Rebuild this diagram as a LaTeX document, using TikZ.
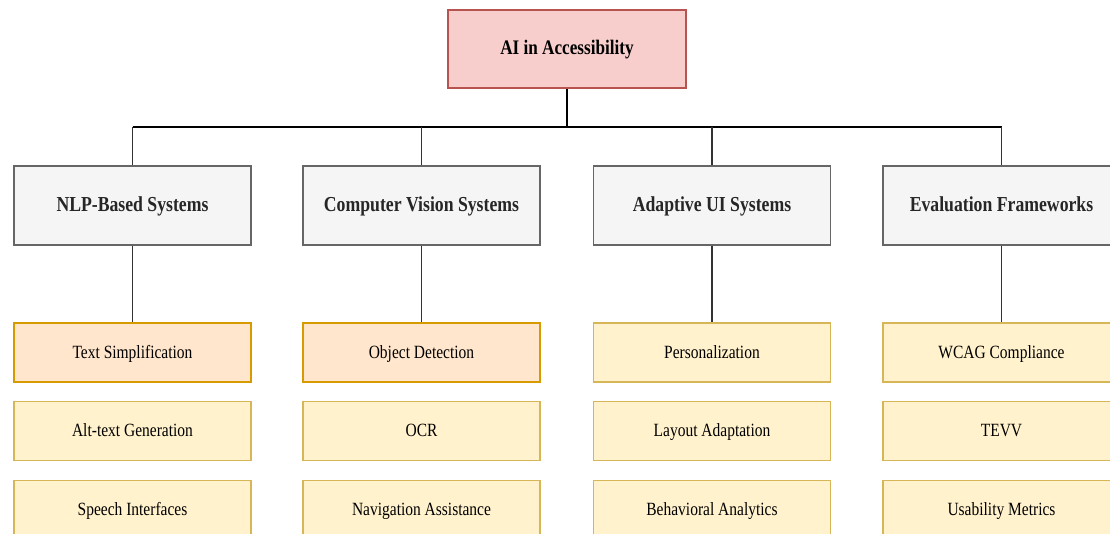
\documentclass[tikz,border=0pt]{standalone}
\usepackage{fontspec}
\setmainfont[FakeStretch=0.83]{Liberation Serif}

\definecolor{rootfill}{HTML}{F8CECC}
\definecolor{rootline}{HTML}{B85450}
\definecolor{catfill}{HTML}{F5F5F5}
\definecolor{catline}{HTML}{666666}
\definecolor{hotfill}{HTML}{FFE6CC}
\definecolor{hotline}{HTML}{D79B00}
\definecolor{leaffill}{HTML}{FFF2CC}
\definecolor{leafline}{HTML}{D6B656}

\tikzset{
    box/.style={text height=0.85em, text depth=0em},
    rootbox/.style={box, draw=rootline, fill=rootfill, line width=1.2pt, minimum width=178.5pt, minimum height=58.5pt, font=\fontsize{15.5}{18}\selectfont\bfseries},
    catbox/.style={box, draw=catline, fill=catfill, line width=1.1pt, minimum width=177.75pt, minimum height=59.25pt, font=\fontsize{16}{19}\selectfont\bfseries, text=black!85},
    hotbox/.style={box, draw=hotline, fill=hotfill, line width=1.1pt, minimum width=177.75pt, minimum height=44.25pt, font=\fontsize{14}{17}\selectfont},
    leafbox/.style={box, draw=leafline, fill=leaffill, line width=1.1pt, minimum width=177.75pt, minimum height=44.25pt, font=\fontsize{14}{17}\selectfont},
    bus/.style={draw=black, line width=1.6pt},
    link/.style={draw=black!80, line width=1pt}
}

\begin{document}
\begin{tikzpicture}[x=0.75pt, y=-0.75pt]
    \useasboundingbox (0,0) rectangle (1110,534);
    \clip (0,0) rectangle (1110,534);

    \node[rootbox] (root) at (567,49) {AI in Accessibility};

    \foreach \i/\x/\name in {1/132.5/NLP-Based Systems, 2/421.5/Computer Vision Systems, 3/712/Adaptive UI Systems, 4/1001.5/Evaluation Frameworks}
    {
        \node[catbox] (c\i) at (\x,205.5) {\name};
    }

    % leaves, first row
    \node[hotbox] (l11) at (132.5,352.5) {Text Simplification};
    \node[hotbox] (l21) at (421.5,352.5) {Object Detection};
    \node[leafbox] (l31) at (712,352.5) {Personalization};
    \node[leafbox] (l41) at (1001.5,352.5) {WCAG Compliance};

    \foreach \i/\x/\first/\second in {1/132.5/Alt-text Generation/Speech Interfaces, 2/421.5/OCR/Navigation Assistance, 3/712/Layout Adaptation/Behavioral Analytics, 4/1001.5/TEVV/Usability Metrics}
    {
        \node[leafbox] (l\i2) at (\x,431) {\first};
        \node[leafbox] (l\i3) at (\x,510) {\second};
    }

    \draw[bus] (root.south) -- ++(0,38) coordinate (hub);
    \draw[bus] (hub -| c1.north) -- (hub -| c4.north);
    \foreach \i in {1,...,4}
    {
        \draw[link] (hub -| c\i.north) -- (c\i.north);
        \draw[link] (c\i.south) -- (l\i1.north);
    }
\end{tikzpicture}
\end{document}
